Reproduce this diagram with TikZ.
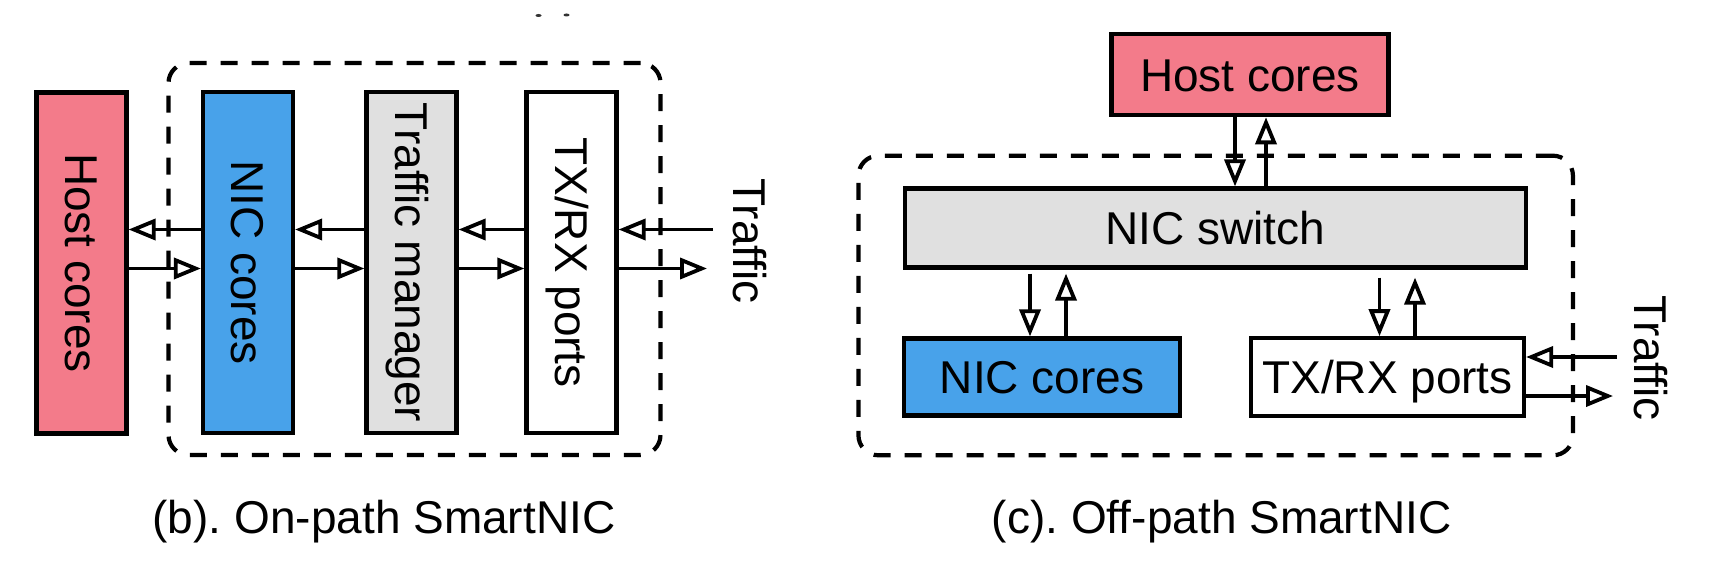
\documentclass[tikz,border=0pt]{standalone}
\usepackage{fontspec}
\setmainfont{Liberation Sans}
\usepackage{graphicx}
\usetikzlibrary{arrows.meta}
\definecolor{hostpink}{RGB}{243,123,138}
\definecolor{nicblue}{RGB}{72,162,234}
\definecolor{swgray}{RGB}{224,224,224}
\newcommand{\rotlabel}[1]{\rotatebox{-90}{\raisebox{0pt}[33pt][0pt]{#1}}}
\frenchspacing
\begin{document}
\begin{tikzpicture}[x=1pt,y=-1pt,
  box/.style={draw=black, line width=4.2pt, inner sep=0pt, font=\fontsize{46}{55}\selectfont},
  hbox/.style={box, text height=33pt, text depth=0pt},
  arr/.style={line width=3.8pt, -{Triangle[length=27pt,width=21pt,fill=white]}},
  frame/.style={draw=black, line width=4.2pt, dash pattern=on 17pt off 14pt, rounded corners=20pt, inner sep=0pt},
  lbl/.style={inner sep=0pt, font=\fontsize{46}{55}\selectfont}]
\useasboundingbox (0,0) rectangle (1718,564);

% remnant marks at top
\fill[black!80] (538.5,15.5) ellipse [x radius=3pt, y radius=1.5pt];
\fill[black!80] (566.5,15) ellipse [x radius=3pt, y radius=1.5pt];

% ---------- (b) on-path ----------
\node[frame, minimum width=492pt, minimum height=392pt] (frb) at (414.5,259) {};
\node[box, fill=hostpink, minimum width=90pt, minimum height=341pt] (hostb) at (81.5,263) {\rotlabel{Host cores}};
\node[box, fill=nicblue, minimum width=90pt, minimum height=341pt] (nicb) at (248,262.5) {\rotlabel{NIC cores}};
\node[box, fill=swgray, minimum width=90pt, minimum height=341pt] (tmb) at (411.5,262.5) {\rotlabel{Traffic manager}};
\node[box, fill=white, minimum width=90pt, minimum height=341pt] (txb) at (571.5,262.5) {\rotlabel{TX/RX ports}};

\coordinate (bup) at (0,229.5);
\coordinate (bdn) at (0,268.5);
\coordinate (tinb) at (713,229.5);
\coordinate (toutb) at (707,268.5);

\draw[arr] (nicb.west |- bup) -- (hostb.east |- bup);
\draw[arr] (hostb.east |- bdn) -- (nicb.west |- bdn);
\draw[arr] (tmb.west |- bup) -- (nicb.east |- bup);
\draw[arr] (nicb.east |- bdn) -- (tmb.west |- bdn);
\draw[arr] (txb.west |- bup) -- (tmb.east |- bup);
\draw[arr] (tmb.east |- bdn) -- (txb.west |- bdn);
\draw[arr] (tinb) -- (txb.east |- bup);
\draw[arr] (txb.east |- bdn) -- (toutb);

\node[lbl] (trb) at (750,241) {\rotlabel{Traffic}};
\node[lbl, anchor=base] (capb) at (384,533) {(b). On-path SmartNIC};

% ---------- (c) off-path ----------
\node[frame, minimum width=714.5pt, minimum height=299.6pt] (frc) at (1215.7,305.5) {};
\node[hbox, fill=hostpink, minimum width=277pt, minimum height=81pt] (hostc) at (1250,74.7) {Host cores};
\node[hbox, fill=swgray, minimum width=621pt, minimum height=79pt] (swc) at (1215.3,228) {NIC switch};
\node[hbox, fill=nicblue, minimum width=276pt, minimum height=77pt] (nicc) at (1042.2,377) {NIC cores};
\node[hbox, fill=white, minimum width=273pt, minimum height=78pt] (txc) at (1387.5,377.3) {TX/RX ports};

\coordinate (ca1) at (1235,0);
\coordinate (ca2) at (1266,0);
\coordinate (cb1) at (1030,0);
\coordinate (cb2) at (1066,0);
\coordinate (cc1) at (1379.5,0);
\coordinate (cc2) at (1415,0);
\coordinate (swlo) at ([yshift=-4pt]swc.south);
\coordinate (swlo2) at ([yshift=-8pt]swc.south);
\coordinate (cup) at (0,357);
\coordinate (cdn) at (0,396);
\coordinate (tinc) at (1617,357);
\coordinate (toutc) at (1613,396);

\draw[arr] (hostc.south -| ca1) -- (swc.north -| ca1);
\draw[arr] (swc.north -| ca2) -- (hostc.south -| ca2);
\draw[arr] (swlo -| cb1) -- (nicc.north -| cb1);
\draw[arr] (nicc.north -| cb2) -- (swlo -| cb2);
\draw[arr] (swlo2 -| cc1) -- (txc.north -| cc1);
\draw[arr] (txc.north -| cc2) -- (swlo2 -| cc2);
\draw[arr] (tinc) -- (txc.east |- cup);
\draw[arr] (txc.east |- cdn) -- (toutc);

\node[lbl] (trc) at (1651,358) {\rotlabel{Traffic}};
\node[lbl, anchor=base] (capc) at (1221.6,533) {(c). Off-path SmartNIC};
\end{tikzpicture}
\end{document}
